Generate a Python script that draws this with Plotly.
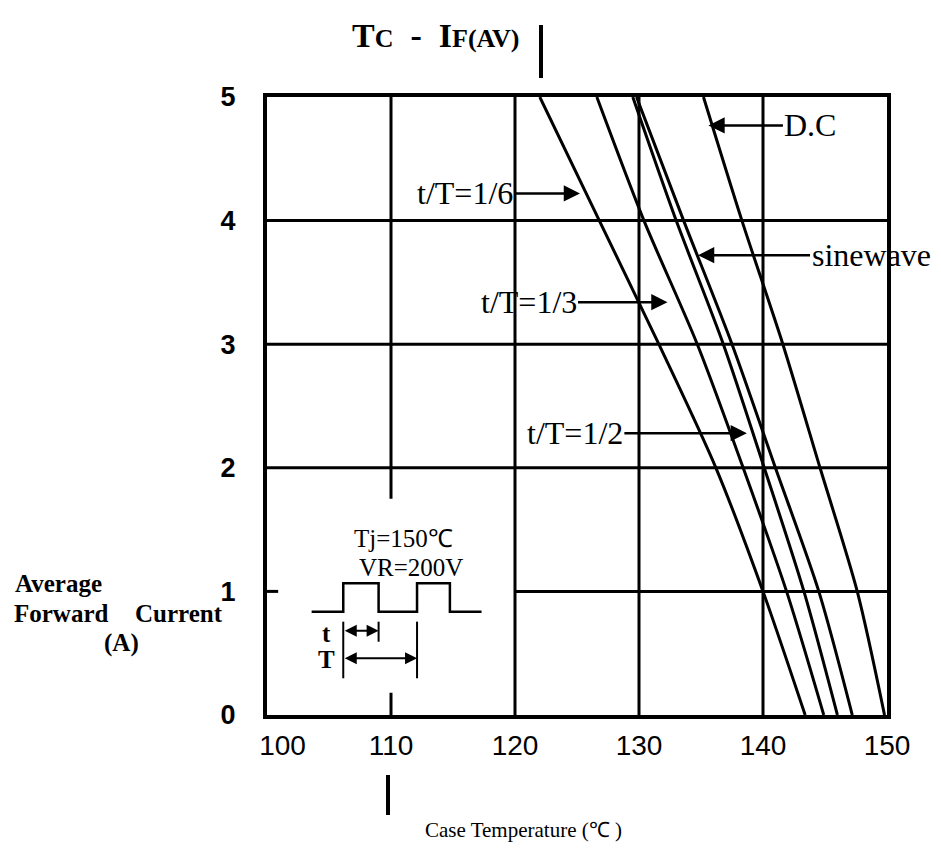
import plotly.graph_objects as go

# ---- data ----
current = [5, 4, 3, 2, 1, 0]                      # Average forward current (A)
temp_1_6 = [122.0, 126.8, 131.6, 136.2, 140.0, 143.4]   # t/T=1/6
temp_1_3 = [126.6, 130.4, 134.7, 138.4, 141.9, 144.9]   # t/T=1/3
temp_1_2 = [129.5, 133.0, 136.8, 140.1, 143.3, 146.0]   # t/T=1/2
temp_sine = [129.8, 133.6, 137.5, 141.0, 144.5, 147.2]  # sinewave
temp_dc = [135.2, 138.3, 141.6, 144.6, 147.6, 149.8]    # D.C

x_ticks = [100, 110, 120, 130, 140, 150]
x_ticktext = ["\u00a0\u00a0\u00a0\u00a0100", "110", "120", "130", "140", "150"]
y_ticks = [0, 1, 2, 3, 4, 5]

# inset pulse waveform (data coords)
wave_x = [103.6, 106.15, 106.15, 109.0, 109.0, 112.1, 112.1, 114.75, 114.75, 117.3]
wave_y = [0.836, 0.836, 1.066, 1.066, 0.836, 0.836, 1.066, 1.066, 0.836, 0.836]

# grid segments (x, y0, y1) and (y, x0, x1)
grid_v = [(110, 1.75, 5), (110, 0, 0.18), (120, 0, 5), (130, 0, 5), (140, 0, 5)]
grid_h = [(2, 100, 150), (3, 100, 150), (4, 100, 150), (1, 120, 150), (1, 100, 100.9)]

SERIF = "Liberation Serif"
SANS = "Liberation Sans"

# plot area in pixels
L, R, T, B = 267, 887, 97, 715
W, H = 941, 853


def px(xp):
    return (xp - L) / (R - L)


def py(yp):
    return (B - yp) / (B - T)


fig = go.Figure()

for xs in [temp_1_6, temp_1_3, temp_1_2, temp_sine, temp_dc]:
    fig.add_trace(go.Scatter(x=xs, y=current, mode="lines",
                             line=dict(color="black", width=3, shape="spline", smoothing=0.8),
                             hoverinfo="skip", showlegend=False))

fig.add_trace(go.Scatter(x=wave_x, y=wave_y, mode="lines",
                         line=dict(color="black", width=2.5),
                         hoverinfo="skip", showlegend=False))

shapes = []
for xv, y0, y1 in grid_v:
    shapes.append(dict(type="line", xref="x", yref="y", x0=xv, x1=xv, y0=y0, y1=y1,
                       line=dict(color="black", width=3), layer="below"))
for yv, x0, x1 in grid_h:
    shapes.append(dict(type="line", xref="x", yref="y", x0=x0, x1=x1, y0=yv, y1=yv,
                       line=dict(color="black", width=3), layer="below"))

# inset marker lines
for xv, y0, y1 in [(106.15, 0.297, 0.755), (109.0, 0.593, 0.755), (112.1, 0.297, 0.755)]:
    shapes.append(dict(type="line", xref="x", yref="y", x0=xv, x1=xv, y0=y0, y1=y1,
                       line=dict(color="black", width=2)))

# decorative bars (scan marks)
shapes.append(dict(type="line", xref="paper", yref="paper", x0=px(541), x1=px(541),
                   y0=py(25), y1=py(78), line=dict(color="black", width=4)))
shapes.append(dict(type="line", xref="paper", yref="paper", x0=px(388), x1=px(388),
                   y0=py(775), y1=py(815), line=dict(color="black", width=4)))

ann = []
lab_font = dict(family=SERIF, size=32, color="black")


def curve_label(text, x, y, ax):
    return dict(x=x, y=y, xref="x", yref="y", ax=ax, ay=0, text=text,
                showarrow=True, arrowhead=2, arrowsize=1.3, arrowwidth=2.5,
                arrowcolor="black", standoff=0, font=lab_font)


ann.append(curve_label("t/T=1/6", 125.24, 4.22, -115))
ann.append(curve_label("t/T=1/3", 132.3, 3.34, -139))
ann.append(curve_label("t/T=1/2", 138.7, 2.28, -172))
ann.append(curve_label("sinewave", 134.76, 3.72, 173))
ann.append(curve_label("D.C", 135.6, 4.77, 102))

# inset double arrows
for yv, x0, x1 in [(0.682, 106.15, 109.0), (0.459, 106.15, 112.1)]:
    ann.append(dict(x=x1, y=yv, ax=x0, ay=yv, xref="x", yref="y", axref="x", ayref="y",
                    text="", showarrow=True, arrowhead=2, arrowside="end+start",
                    arrowsize=1.2, arrowwidth=2, arrowcolor="black", standoff=0, startstandoff=0))

inset_font = dict(family=SERIF, size=25, color="black")


def txt(text, x, y, font, ref="x"):
    return dict(x=x, y=y, xref=ref, yref=("y" if ref == "x" else "paper"), text=text,
                showarrow=False, font=font, xanchor="center", yanchor="middle")


ann.append(txt("Tj=150℃", 110.97, 1.43, inset_font))
ann.append(txt("VR=200V", 111.6, 1.197, inset_font))
ann.append(txt("<b>t</b>", 104.8, 0.663, inset_font))
ann.append(txt("<b>T</b>", 104.8, 0.45, inset_font))

# y-axis title pieces
ylab_font = dict(family=SERIF, size=25, color="black")
ann.append(txt("<b>Average</b>", px(58), py(583), ylab_font, "paper"))
ann.append(txt("<b>Forward</b>", px(61), py(613), ylab_font, "paper"))
ann.append(txt("<b>Current</b>", px(179), py(613), ylab_font, "paper"))
ann.append(txt("<b>(A)</b>", px(121), py(643), ylab_font, "paper"))

# x-axis title
ann.append(txt("Case Temperature (℃ )", px(523), py(830),
               dict(family=SERIF, size=21, color="black"), "paper"))

# chart title
title_txt = ("<b>T<span style='font-size:26px'>C</span>\u00a0\u00a0-\u00a0\u00a0"
             "I<span style='font-size:26px'>F(AV)</span></b>")
ann.append(txt(title_txt, px(435), py(36), dict(family=SERIF, size=34, color="black"), "paper"))

fig.update_layout(
    width=W, height=H,
    margin=dict(l=L, r=W - R, t=T, b=H - B, pad=0),
    plot_bgcolor="white", paper_bgcolor="white",
    shapes=shapes, annotations=ann, showlegend=False,
    xaxis=dict(range=[100, 150], tickvals=x_ticks, ticktext=x_ticktext,
               showgrid=False, zeroline=False, showline=True, mirror=True,
               linecolor="black", linewidth=4, ticks="", ticklen=0,
               tickfont=dict(family=SANS, size=28, color="black"), ticklabelstandoff=2,
               fixedrange=True),
    yaxis=dict(range=[0, 5], tickvals=y_ticks, ticktext=["<b>%d</b>" % v for v in y_ticks],
               showgrid=False, zeroline=False, showline=True, mirror=True,
               linecolor="black", linewidth=4, ticks="", ticklen=0,
               tickfont=dict(family=SANS, size=27, color="black"), ticklabelstandoff=22,
               fixedrange=True),
)

fig.write_html("out.html", config={"displayModeBar": False},
               post_script="document.body.style.margin='0';document.body.style.overflow='hidden';")
